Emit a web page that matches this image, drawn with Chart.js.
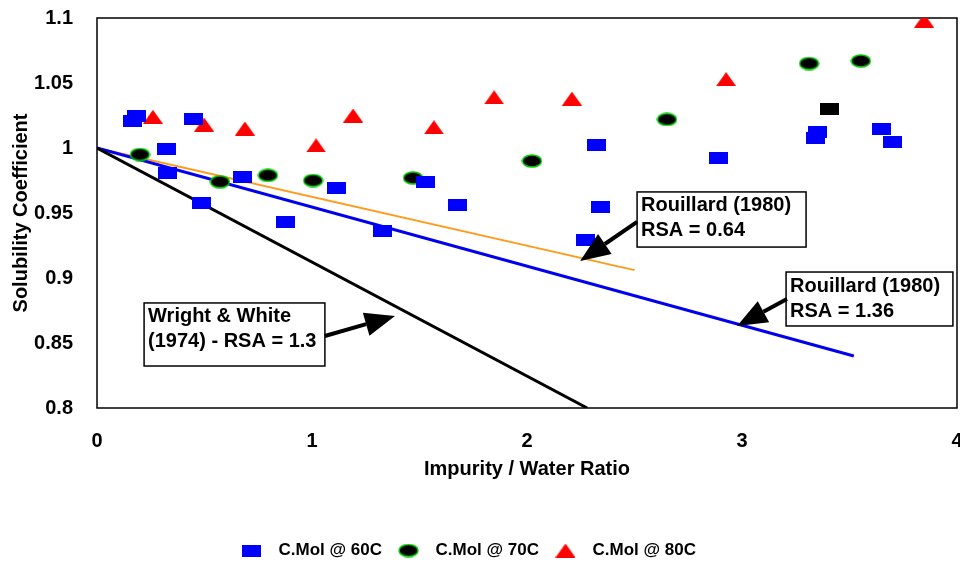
<!DOCTYPE html>
<html>
<head>
<meta charset="utf-8">
<script src="https://cdn.jsdelivr.net/npm/chart.js@4.4.1/dist/chart.umd.min.js"></script>
<style>
  html, body { margin: 0; padding: 0; background: #fff; }
  #wrap { width: 960px; height: 570px; }
</style>
</head>
<body>
<div id="wrap"><canvas id="chart" width="960" height="570"></canvas></div>
<script>
// Solubility coefficient vs impurity/water ratio, three temperatures + fitted lines.

const FONT = "'Liberation Sans', Arial, sans-serif";

const mol60X = [0.167, 0.186, 0.447, 0.321, 0.326, 0.484, 0.679, 0.879, 1.112, 1.326, 1.526, 1.679, 2.274, 2.321, 2.344, 2.893, 3.340, 3.353, 3.647, 3.702];
const mol60Y = [1.021, 1.025, 1.022, 0.999, 0.981, 0.958, 0.978, 0.943, 0.969, 0.936, 0.974, 0.956, 0.929, 1.002, 0.955, 0.992, 1.008, 1.012, 1.015, 1.005];

const mol70X = [0.200, 0.572, 0.795, 1.005, 1.470, 2.023, 2.651, 3.312, 3.553];
const mol70Y = [0.995, 0.974, 0.979, 0.975, 0.977, 0.990, 1.022, 1.065, 1.067];

const mol80X = [0.260, 0.498, 0.688, 1.019, 1.191, 1.567, 1.847, 2.209, 2.926, 3.847];
const mol80Y = [1.024, 1.018, 1.015, 1.002, 1.025, 1.016, 1.039, 1.038, 1.053, 1.098];

// the odd black marker near x = 3.4
const oddX = [3.405];
const oddY = [1.030];

// correlation lines
const wrightX = [0, 2.28];
const wrightY = [1, 0.8];
const rsa136X = [0, 3.52];
const rsa136Y = [1, 0.84];
const rsa064X = [0, 2.5];
const rsa064Y = [1, 0.906];

const seriesNames = ['C.Mol @ 60C', 'C.Mol @ 70C', 'C.Mol @ 80C'];

const xTickValues = [0, 1, 2, 3, 4];
const xTickLabels = ['0', '1', '2', '3', '4'];
const yTickValues = [0.8, 0.85, 0.9, 0.95, 1, 1.05, 1.1];
const yTickLabels = ['0.8', '0.85', '0.9', '0.95', '1', '1.05', '1.1'];

// callout boxes: box = [xLeft, yTop, xRight, yBottom], arrow from -> to (data units)
const notes = [
  { lines: ['Wright & White', '(1974) - RSA = 1.3'], box: [0.219, 0.8808, 1.060, 0.8323], from: [1.060, 0.8554], to: [1.386, 0.8708] },
  { lines: ['Rouillard (1980)', 'RSA = 0.64'], box: [2.512, 0.9662, 3.298, 0.9238], from: [2.512, 0.9431], to: [2.247, 0.9131] },
  { lines: ['Rouillard (1980)', 'RSA = 1.36'], box: [3.205, 0.9046, 3.981, 0.8631], from: [3.209, 0.8838], to: [2.977, 0.8631] },
];

function zip(xs, ys) {
  return xs.map((x, i) => ({ x, y: ys[i] }));
}

function makeMarker(w, h, draw) {
  const c = document.createElement('canvas');
  c.width = w;
  c.height = h;
  draw(c.getContext('2d'), w, h);
  return c;
}

const squareMark = makeMarker(19, 12, (g, w, h) => { g.fillStyle = '#0000ff'; g.fillRect(0, 0, w, h); });
const blackMark = makeMarker(19, 12, (g, w, h) => { g.fillStyle = '#000'; g.fillRect(0, 0, w, h); });
const ellipseMark = makeMarker(21, 14, (g, w, h) => {
  g.beginPath();
  g.ellipse(w / 2, h / 2, w / 2 - 1, h / 2 - 1, 0, 0, Math.PI * 2);
  g.fillStyle = '#000';
  g.fill();
  g.lineWidth = 1.5;
  g.strokeStyle = '#00c800';
  g.stroke();
});
const triangleMark = makeMarker(20, 14, (g, w, h) => {
  g.beginPath();
  g.moveTo(w / 2, 0);
  g.lineTo(w, h);
  g.lineTo(0, h);
  g.closePath();
  g.fillStyle = '#ff0000';
  g.fill();
});

function markerSet(label, data, mark) {
  return { label, data, pointStyle: mark, pointRadius: 7, showLine: false, borderWidth: 0 };
}

function lineSet(label, data, color, width) {
  return { label, data, showLine: true, borderColor: color, borderWidth: width, pointRadius: 0, fill: false };
}

const framePlugin = {
  id: 'frame',
  afterLayout(chart) {
    // nudge the legend row a bit left, as in the original
    if (chart.legend) {
      chart.legend.left -= 14;
      chart.legend.right -= 14;
    }
  },
  beforeDatasetsDraw(chart) {
    const { ctx, chartArea: a } = chart;
    ctx.save();
    ctx.strokeStyle = '#000';
    ctx.lineWidth = 1.5;
    ctx.strokeRect(a.left, a.top, a.right - a.left, a.bottom - a.top);
    ctx.restore();
  }
};

function drawArrow(ctx, x0, y0, x1, y1) {
  const ang = Math.atan2(y1 - y0, x1 - x0);
  const len = 30, half = 12;
  const bx = x1 - Math.cos(ang) * len, by = y1 - Math.sin(ang) * len;
  ctx.beginPath();
  ctx.moveTo(x0, y0);
  ctx.lineTo(bx, by);
  ctx.lineWidth = 4;
  ctx.stroke();
  ctx.beginPath();
  ctx.moveTo(x1, y1);
  ctx.lineTo(bx + Math.sin(ang) * half, by - Math.cos(ang) * half);
  ctx.lineTo(bx - Math.sin(ang) * half, by + Math.cos(ang) * half);
  ctx.closePath();
  ctx.fill();
}

const notesPlugin = {
  id: 'notes',
  afterDatasetsDraw(chart) {
    const { ctx } = chart;
    const xs = chart.scales.x, ys = chart.scales.y;
    ctx.save();
    notes.forEach(n => {
      const x0 = xs.getPixelForValue(n.box[0]), y0 = ys.getPixelForValue(n.box[1]);
      const x1 = xs.getPixelForValue(n.box[2]), y1 = ys.getPixelForValue(n.box[3]);
      ctx.fillStyle = '#fff';
      ctx.fillRect(x0, y0, x1 - x0, y1 - y0);
      ctx.strokeStyle = '#000';
      ctx.lineWidth = 1.5;
      ctx.strokeRect(x0, y0, x1 - x0, y1 - y0);
      ctx.fillStyle = '#000';
      ctx.font = 'bold 20px ' + FONT;
      ctx.textBaseline = 'middle';
      ctx.textAlign = 'left';
      n.lines.forEach((t, i) => ctx.fillText(t, x0 + 4, y0 + 14 + i * 25));
      drawArrow(ctx,
        xs.getPixelForValue(n.from[0]), ys.getPixelForValue(n.from[1]),
        xs.getPixelForValue(n.to[0]), ys.getPixelForValue(n.to[1]));
    });
    ctx.restore();
  }
};

new Chart(document.getElementById('chart'), {
  type: 'scatter',
  data: {
    datasets: [
      markerSet(seriesNames[0], zip(mol60X, mol60Y), squareMark),
      markerSet(seriesNames[1], zip(mol70X, mol70Y), ellipseMark),
      markerSet(seriesNames[2], zip(mol80X, mol80Y), triangleMark),
      markerSet('odd', zip(oddX, oddY), blackMark),
      lineSet('Wright & White', zip(wrightX, wrightY), '#000000', 3),
      lineSet('RSA 1.36', zip(rsa136X, rsa136Y), '#0000ee', 3),
      lineSet('RSA 0.64', zip(rsa064X, rsa064Y), '#ff9a1a', 1.8),
    ]
  },
  options: {
    responsive: false,
    animation: false,
    layout: { autoPadding: false, padding: { top: 18, right: 3, bottom: 1, left: 0 } },
    plugins: {
      tooltip: { enabled: false },
      legend: {
        position: 'bottom',
        labels: {
          usePointStyle: true,
          pointStyleWidth: 37,
          padding: 8,
          color: '#000',
          font: { family: FONT, size: 17, weight: 'bold' },
          filter: item => item.datasetIndex < 3
        }
      }
    },
    scales: {
      x: {
        type: 'linear',
        min: 0,
        max: 4,
        afterBuildTicks: s => { s.ticks = xTickValues.map(v => ({ value: v })); },
        afterFit: s => { s.height = 126; s.paddingLeft = 0; s.paddingRight = 0; },
        grid: { display: false, drawTicks: false },
        border: { display: false },
        ticks: {
          padding: 21,
          color: '#000',
          font: { family: FONT, size: 20, weight: 'bold' },
          maxRotation: 0,
          callback: (v, i) => xTickLabels[i]
        },
        title: {
          display: true,
          text: 'Impurity / Water Ratio',
          color: '#000',
          font: { family: FONT, size: 20, weight: 'bold' },
          padding: { top: 0, bottom: 53 }
        }
      },
      y: {
        type: 'linear',
        min: 0.8,
        max: 1.1,
        afterBuildTicks: s => { s.ticks = yTickValues.map(v => ({ value: v })); },
        afterFit: s => { s.width = 97; s.paddingTop = 0; s.paddingBottom = 0; },
        grid: { display: false, drawTicks: false },
        border: { display: false },
        ticks: {
          padding: 24,
          color: '#000',
          font: { family: FONT, size: 20, weight: 'bold' },
          callback: (v, i) => yTickLabels[i]
        },
        title: {
          display: true,
          text: 'Solubility Coefficient',
          color: '#000',
          font: { family: FONT, size: 20, weight: 'bold' },
          padding: { top: 9, bottom: 0 }
        }
      }
    }
  },
  plugins: [framePlugin, notesPlugin]
});
</script>
</body>
</html>
